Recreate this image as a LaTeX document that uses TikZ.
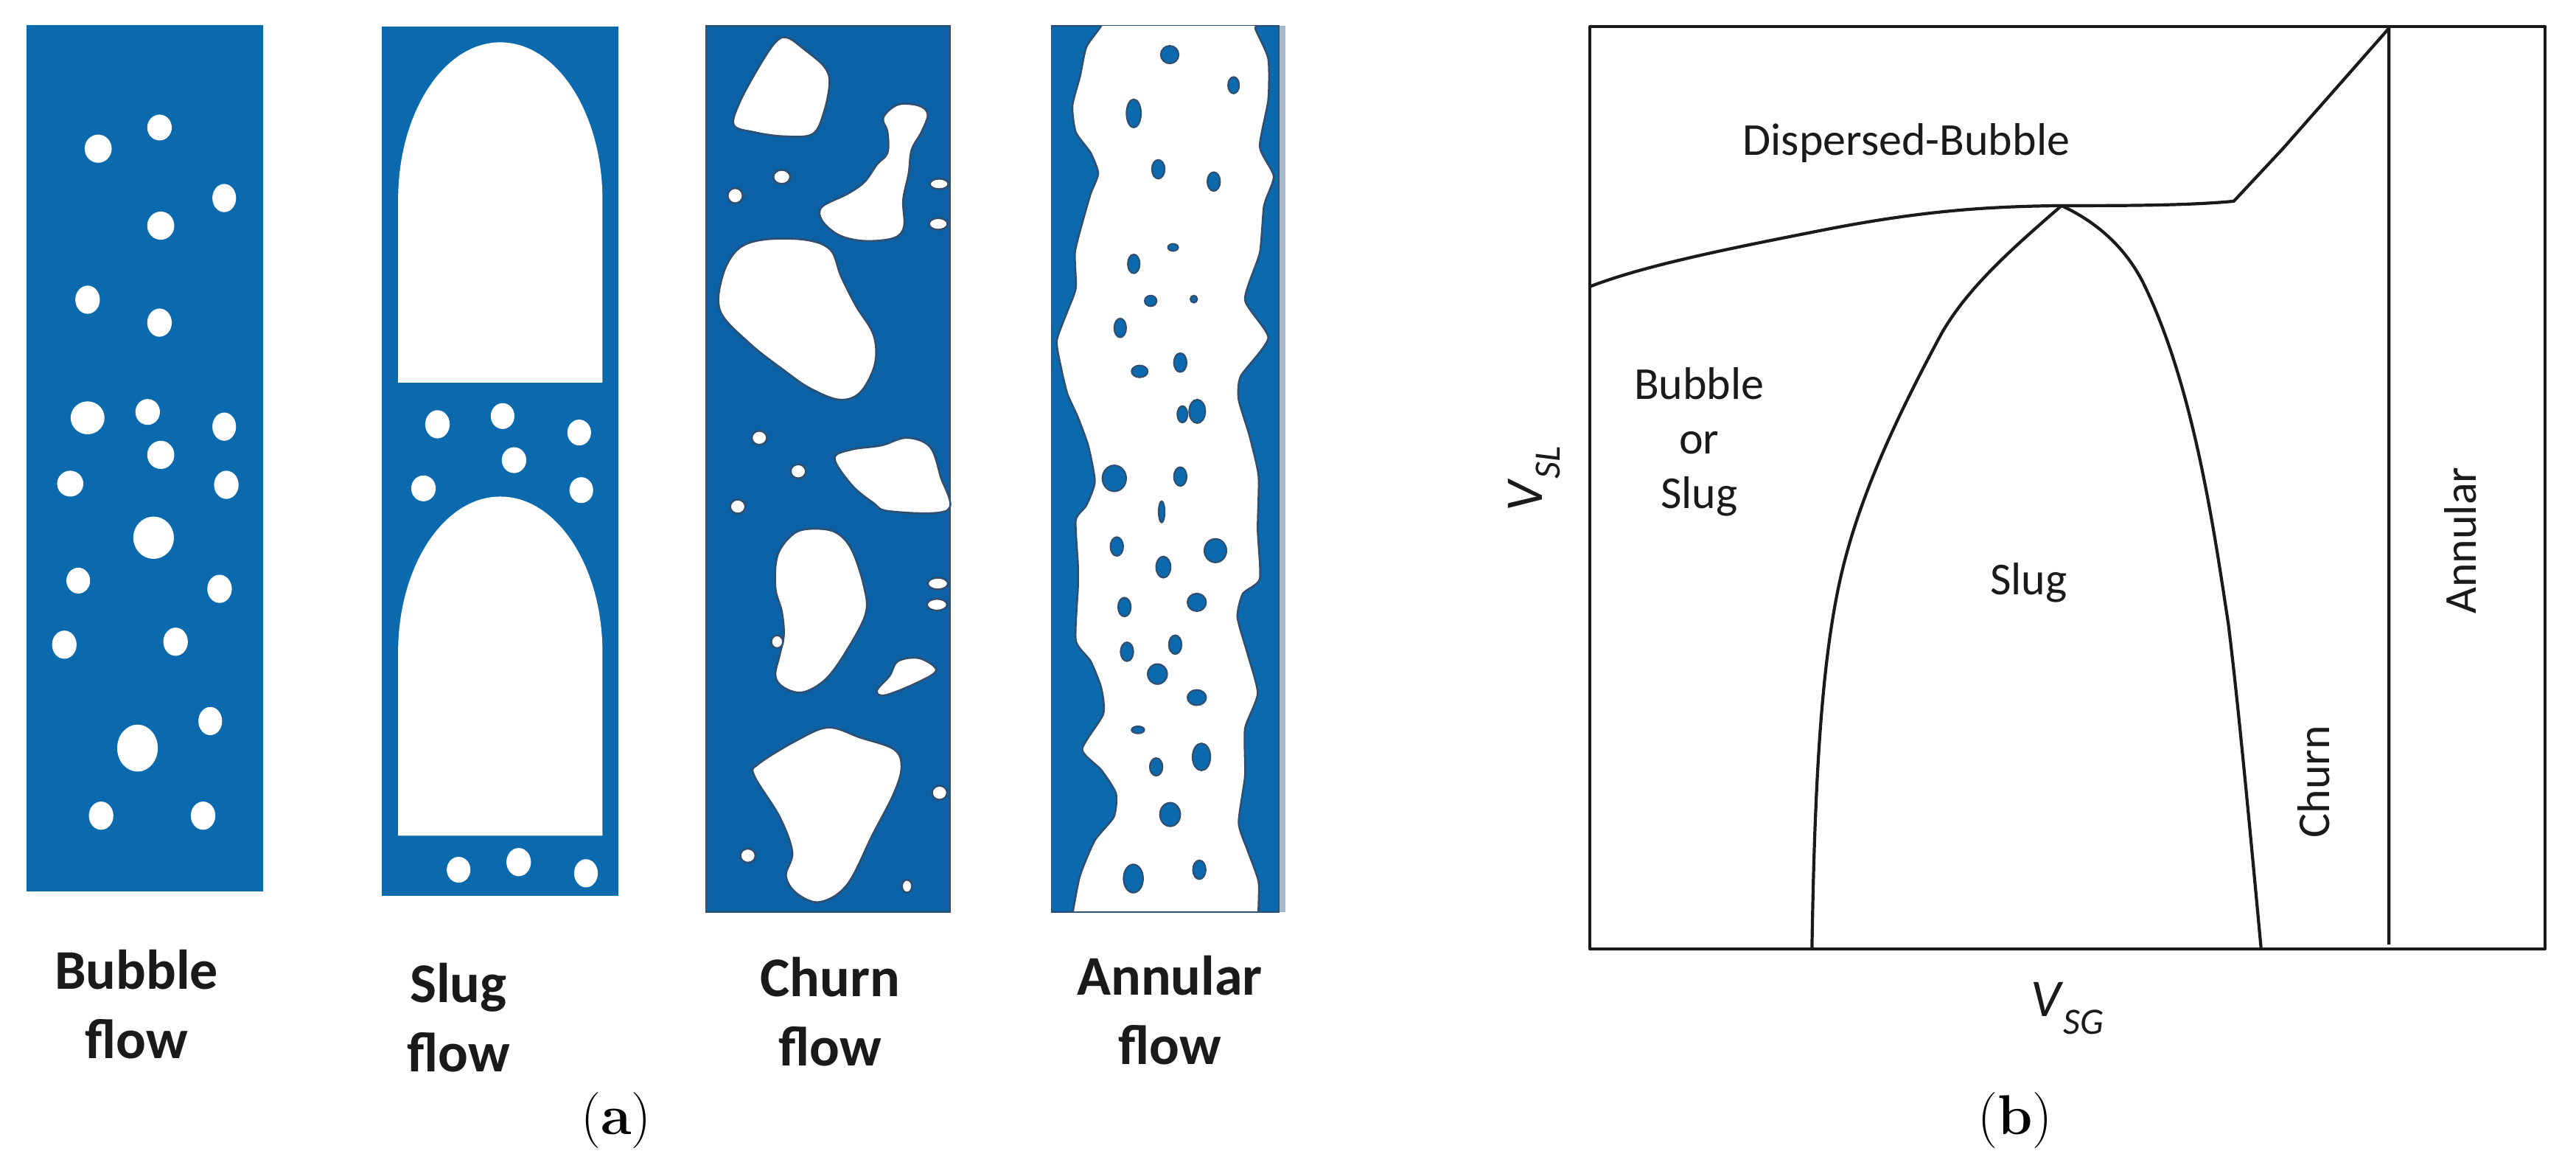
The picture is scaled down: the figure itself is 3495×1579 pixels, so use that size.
\documentclass[tikz,border=0pt]{standalone}
\usepackage{fontspec}
\setmainfont{Carlito}
\newfontfamily\capfont{Latin Modern Roman}
\definecolor{flowblue}{HTML}{0B69AD}
\definecolor{churnblue}{HTML}{0C62A6}
\definecolor{edgedark}{HTML}{2F4F72}
\definecolor{stripgray}{HTML}{A9B9CC}
\definecolor{lblack}{HTML}{1A1A1A}
\tikzset{
  zoomleft/.style={x=0.574pt,y=-0.797pt},
  zoomright/.style={shift={(920pt,0pt)},x=0.574pt,y=-0.797pt},
  zoomplot/.style={shift={(2040pt,0pt)},x=0.9276pt,y=-1.007pt},
  tube/.style={fill=flowblue},
  blob/.style={fill=white,draw=edgedark,line width=2.6pt},
  hole/.style={fill=flowblue,draw=edgedark,line width=2.2pt},
  curveline/.style={draw=lblack,line width=4.2pt,line join=round},
  regime/.style={font=\fontsize{62}{74}\selectfont,text=lblack,inner sep=0pt,align=center},
  axislabel/.style={font=\fontsize{72}{80}\selectfont,text=lblack,inner sep=0pt},
  flowlabel/.style={font=\fontsize{76}{94}\selectfont\bfseries,text=lblack,inner sep=0pt,align=center},
  sublabel/.style={font=\capfont\fontsize{76}{90}\selectfont,text=black,inner sep=0pt},
}
\begin{document}
\begin{tikzpicture}
\useasboundingbox (0pt,0pt) rectangle (3495pt,-1579pt);
\fill[white] (0pt,0pt) rectangle (3495pt,-1579pt);
% bubble
\begin{scope}[zoomleft]
\fill[tube] (63,43) rectangle (622,1517);
\foreach \px/\py/\ra/\rb in {232/253/32/24,377/217/29/22,530/337/28/24,380/384/32/24,207/510/29/24,377/549/29/24,207/711/40/28,349/701/29/22,530/726/28/24,380/774/32/24,166/823/31/22,535/825/29/24,363/915/48/36,185/988/28/22,519/1002/29/24,152/1097/29/24,415/1092/29/24,497/1227/28/24,325/1273/48/40,239/1388/29/24,480/1388/29/24}
  \fill[white] (\px,\py) ellipse [x radius=\ra, y radius=\rb];
% slug
\fill[tube] (902,45) rectangle (1462,1525);
\fill[white] (941,651) -- (941,340) arc [start angle=180,end angle=360,x radius=241.5,y radius=268] -- (1424,651) -- cycle;
\fill[white] (941,1422) -- (941,1110) arc [start angle=180,end angle=360,x radius=241.5,y radius=265] -- (1424,1422) -- cycle;
\foreach \px/\py/\ra/\rb in {1034/722/29/24,1188/708/28/22,1369/736/28/22,1215/783/29/22,1001/831/29/22,1374/834/28/22,1084/1480/28/22,1226/1467/29/24,1385/1486/28/24}
  \fill[white] (\px,\py) ellipse [x radius=\ra, y radius=\rb];
\end{scope}
% churn
\begin{scope}[zoomright]
\fill[churnblue,draw=edgedark,line width=2pt] (66,44) rectangle (642,1552);
\foreach \pts in {
  {(258,64)(300,85)(345,113)(358,140)(345,190)(318,228)(250,232)(180,225)(132,213)(145,175)(190,115)(230,72)},
  {(520,178)(570,180)(590,195)(575,225)(552,255)(545,295)(532,340)(534,385)(510,405)(440,410)(380,400)(340,375)(340,352)(400,330)(440,310)(470,280)(495,260)(495,225)(485,200)},
  {(200,408)(300,408)(360,425)(385,470)(420,520)(462,570)(465,620)(430,668)(380,680)(310,660)(250,630)(170,585)(100,530)(105,470)(140,425)},
  {(370,780)(410,765)(480,758)(540,745)(595,760)(620,810)(637,868)(500,870)(460,855)(410,825)},
  {(310,900)(370,905)(410,935)(440,1000)(443,1045)(400,1105)(350,1155)(295,1178)(250,1170)(230,1150)(240,1115)(250,1080)(245,1040)(230,1000)(235,945)(270,910)},
  {(520,1125)(570,1120)(610,1140)(570,1160)(490,1183)(470,1175)(500,1150)},
  {(355,1238)(430,1255)(510,1275)(528,1305)(510,1350)(460,1420)(400,1505)(335,1535)(280,1520)(255,1490)(270,1450)(240,1390)(180,1320)(190,1300)(280,1260)}}
  \draw[blob] plot[smooth cycle,tension=0.58] coordinates {\pts};
\foreach \px/\py/\ra/\rb in {245/301/20/12,135/333/18/13,617/313/22/9,615/381/22/10,192/745/18/12,284/802/18/12,141/862/18/12,614/993/24/10,612/1029/24/10,234/1092/14/11,618/1349/18/12,165/1456/18/12,541/1508/12/11}
  \draw[blob] (\px,\py) ellipse [x radius=\ra, y radius=\rb];
% annular
\fill[stripgray] (1420,44) rectangle (1435,1552);
\fill[tube,draw=edgedark,line width=1.5pt] (882,44) rectangle (1420,1552);
\begin{scope}
\clip (882,44) rectangle (1420,1550);
\draw[blob] plot[smooth cycle,tension=0.36] coordinates {(1010,20)(1000,44)(965,80)(950,130)(932,180)(940,225)(975,260)(993,295)(975,330)(955,380)(938,430)(940,490)(920,530)(895,580)(905,625)(920,670)(945,710)(970,760)(985,820)(965,860)(940,885)(945,960)(945,1000)(940,1090)(975,1125)(1000,1170)(1005,1215)(955,1275)(1000,1310)(1035,1350)(1030,1390)(985,1430)(950,1490)(933,1552)(925,1590)(1380,1590)(1372,1552)(1372,1500)(1345,1445)(1325,1400)(1340,1320)(1340,1240)(1370,1180)(1345,1110)(1322,1050)(1335,1010)(1375,985)(1370,900)(1372,810)(1350,740)(1325,680)(1330,640)(1395,575)(1340,510)(1375,430)(1385,350)(1408,300)(1375,250)(1395,170)(1395,100)(1365,50)(1355,20)};
\end{scope}
\foreach \px/\py/\ra/\rb in {1162/93/21/15,1313/145/13/14,1077/193/17/24,1135/288/15/16,1266/309/15/16,1170/421/12/6,1077/449/14/16,1117/512/14/9,1219/509/8/6,1045/558/14/16,1187/617/15/16,1091/632/19/10,1192/705/12/14,1227/700/19/20,1031/814/28/22,1187/811/15/16,1143/871/7/18,1037/930/15/16,1270/937/26/20,1147/965/17/18,1055/1033/15/16,1226/1025/22/15,1061/1109/15/16,1175/1097/15/16,1133/1147/23/17,1226/1187/22/13,1087/1242/15/6,1237/1288/21/23,1130/1305/15/15,1163/1386/24/20,1232/1480/15/16,1076/1495/23/24}
  \draw[hole] (\px,\py) ellipse [x radius=\ra, y radius=\rb];
\end{scope}
% flow labels
\node[flowlabel] (lbubble) at (185pt,-1362pt) {Bubble\\flow};
\node[flowlabel] (lslug) at (622pt,-1380pt) {Slug\\flow};
\node[flowlabel] (lchurn) at (1126pt,-1372pt) {Churn\\flow};
\node[flowlabel] (lannular) at (1587pt,-1370pt) {Annular\\flow};
\node[sublabel] (capa) at (836pt,-1520pt) {(\textbf{a})};
\node[sublabel] (capb) at (2734pt,-1520pt) {(\textbf{b})};
% chart
\begin{scope}[zoomplot]
\draw[curveline] (126,36) rectangle (1523,1278);
\coordinate (apex) at (816,277);
\coordinate (knee) at (1068,271);
\coordinate (corner) at (1295,38);
\draw[curveline] (126,386) .. controls (200,360) and (300,340) .. (450,313) .. controls (600,285) and (700,278) .. (apex) .. controls (900,277) and (1000,277) .. (knee) -- (1140,200) -- (corner) -- (1295,1272);
\draw[curveline] (451,1278) .. controls (455,1050) and (465,900) .. (490,790) .. controls (515,680) and (570,570) .. (640,450) .. controls (680,385) and (750,330) .. (apex) .. controls (870,300) and (910,335) .. (935,380) .. controls (1010,520) and (1040,720) .. (1060,840) .. controls (1075,950) and (1095,1150) .. (1108,1278);
\node[regime] (ldisp) at (589,193) {Dispersed-Bubble};
\node[regime] (lbub) at (286,595) {Bubble\\or\\Slug};
\node[regime] (lslugr) at (768,785) {Slug};
\node[regime,rotate=90] (lchurnr) at (1185,1053) {Churn};
\node[regime,rotate=90] (lann) at (1400,728) {Annular};
\node[axislabel] (vsg) at (825,1358) {\textit{V}\textsubscript{\textit{SG}}};
\node[axislabel,rotate=90] (vsl) at (45,645) {\textit{V}\textsubscript{\textit{SL}}};
\end{scope}
\end{tikzpicture}
\end{document}
